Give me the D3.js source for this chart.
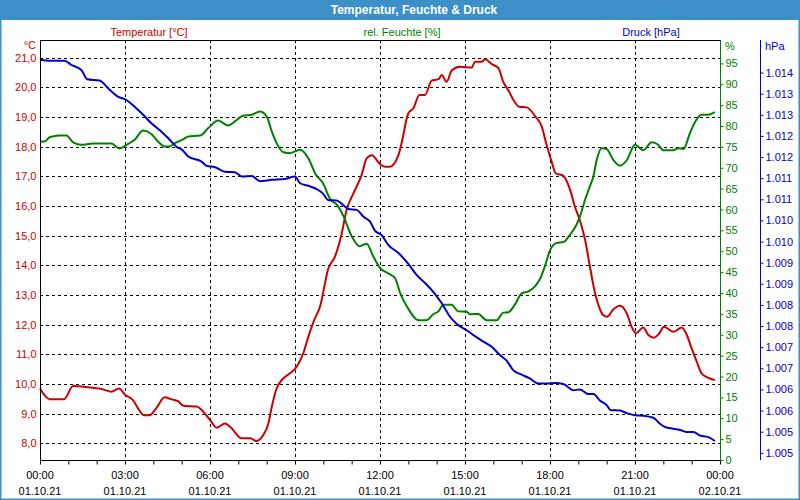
<!DOCTYPE html>
<html><head><meta charset="utf-8">
<script src="https://cdn.jsdelivr.net/npm/d3@7/dist/d3.min.js"></script>
<style>
html,body{margin:0;padding:0;background:#fff;}
svg{display:block;font-family:"Liberation Sans",Arial,sans-serif;}
</style></head>
<body>
<svg id="chart" width="800" height="500"></svg>
<script>
// ---------- data ----------
const chartTitle = "Temperatur, Feuchte & Druck";
const seriesNames = ["Temperatur [°C]", "rel. Feuchte [%]", "Druck [hPa]"];
const unitLabels = ["°C", "%", "hPa"];

const tempHours = [0.00,0.34,0.85,1.17,1.69,2.22,2.52,2.79,3.01,3.28,3.46,3.67,3.87,4.10,4.40,4.63,4.87,5.06,5.53,5.76,6.00,6.24,6.53,6.71,7.12,7.41,7.65,7.88,8.06,8.18,8.35,8.53,8.82,9.06,9.29,9.47,9.68,9.88,10.18,10.41,10.65,10.82,11.06,11.35,11.53,11.71,12.00,12.18,12.35,12.65,12.76,13.00,13.18,13.39,13.59,13.82,14.06,14.18,14.35,14.53,14.82,15.24,15.35,15.59,15.71,15.94,16.18,16.35,16.53,16.71,16.91,17.18,17.47,17.71,17.88,18.06,18.20,18.47,18.71,18.88,19.06,19.24,19.41,19.59,19.71,19.88,20.02,20.24,20.47,20.71,20.88,21.04,21.29,21.47,21.67,21.86,22.02,22.35,22.65,22.82,23.00,23.18,23.35,23.59,23.82];
const tempValues = [9.85,9.49,9.49,9.93,9.89,9.82,9.74,9.85,9.63,9.46,9.18,8.95,8.95,9.18,9.55,9.49,9.42,9.27,9.24,9.07,8.79,8.53,8.67,8.56,8.17,8.17,8.08,8.28,8.67,9.23,9.85,10.13,10.36,10.58,11.03,11.59,12.16,12.60,13.90,14.29,15.08,15.86,16.42,17.04,17.60,17.71,17.41,17.32,17.32,17.71,18.11,19.12,19.29,19.74,19.74,20.22,20.27,20.41,20.18,20.56,20.69,20.66,20.86,20.86,20.94,20.78,20.64,20.18,19.90,19.57,19.34,19.32,19.03,18.67,18.05,17.49,17.10,17.01,16.54,15.97,15.50,14.85,13.95,13.06,12.66,12.32,12.27,12.52,12.64,12.38,11.93,11.71,11.90,11.65,11.56,11.71,11.93,11.76,11.90,11.67,11.20,10.75,10.36,10.21,10.13];

const humHours = [0.00,0.16,0.34,0.69,0.93,1.17,1.46,1.87,2.52,2.81,3.05,3.34,3.64,3.93,4.16,4.40,4.58,4.76,5.00,5.24,5.65,5.94,6.29,6.65,6.88,7.18,7.47,7.76,8.00,8.18,8.35,8.59,8.82,9.18,9.47,9.74,9.98,10.24,10.47,10.71,11.00,11.29,11.53,11.76,12.00,12.29,12.53,12.71,13.00,13.35,13.65,13.88,14.06,14.24,14.53,14.76,15.06,15.18,15.47,15.76,16.12,16.35,16.53,16.76,17.00,17.24,17.47,17.65,17.82,18.00,18.24,18.47,18.71,18.94,19.06,19.24,19.41,19.53,19.65,19.82,20.00,20.24,20.47,20.71,21.00,21.29,21.59,21.82,22.00,22.35,22.53,22.71,22.94,23.15,23.35,23.59,23.82];
const humValues = [76.3,76.3,77.3,77.7,77.7,76.1,75.5,75.8,75.8,74.6,75.5,76.7,78.9,78.1,76.3,75.1,75.1,75.9,76.6,77.5,77.7,79.5,81.3,80.1,81.1,82.5,82.7,83.5,82.3,78.7,75.9,73.7,73.5,74.3,72.3,68.3,66.4,62.5,61.2,58.4,53.6,51.2,51.8,48.8,46.0,44.7,43.6,40.0,36.2,33.5,33.5,34.9,35.6,37.2,37.2,35.6,35.5,34.9,35.0,33.5,33.5,35.3,35.4,37.2,39.9,40.4,41.6,43.4,46.4,50.2,52.0,52.2,54.0,56.4,58.4,62.4,65.6,67.9,71.9,74.7,74.5,71.8,70.5,71.8,75.5,74.2,76.1,75.5,74.2,74.2,74.7,74.5,78.3,81.3,82.7,82.7,83.3];

const presHours = [0.00,0.34,0.87,1.10,1.46,1.67,2.10,2.46,2.75,3.05,3.34,3.64,3.93,4.22,4.52,4.85,5.00,5.24,5.71,5.88,6.18,6.53,6.88,7.12,7.47,7.76,8.18,8.65,9.00,9.18,9.47,9.82,9.98,10.18,10.47,10.71,10.88,11.18,11.41,11.65,11.82,12.06,12.29,12.65,13.00,13.29,13.59,13.88,14.18,14.47,14.71,15.06,15.35,15.65,15.94,16.24,16.47,16.71,17.00,17.29,17.59,17.94,18.18,18.47,18.82,19.06,19.35,19.53,19.76,20.00,20.14,20.47,20.71,21.00,21.29,21.65,21.88,22.06,22.35,22.65,22.82,23.06,23.29,23.59,23.82];
const presValues = [1014.30,1014.28,1014.28,1014.18,1014.06,1013.84,1013.81,1013.59,1013.43,1013.35,1013.19,1013.00,1012.80,1012.64,1012.45,1012.23,1012.18,1012.01,1011.89,1011.79,1011.76,1011.65,1011.64,1011.54,1011.55,1011.43,1011.46,1011.48,1011.54,1011.38,1011.32,1011.22,1011.14,1010.98,1010.97,1010.86,1010.77,1010.75,1010.59,1010.47,1010.26,1010.15,1009.92,1009.73,1009.47,1009.21,1009.02,1008.81,1008.54,1008.22,1008.05,1007.90,1007.76,1007.63,1007.51,1007.31,1007.18,1006.95,1006.85,1006.76,1006.64,1006.64,1006.65,1006.63,1006.48,1006.50,1006.39,1006.39,1006.24,1006.13,1006.01,1006.00,1005.94,1005.89,1005.88,1005.83,1005.69,1005.61,1005.57,1005.53,1005.49,1005.49,1005.41,1005.37,1005.28];

const tempTicks = [8,9,10,11,12,13,14,15,16,17,18,19,20,21];
const humTicks = [0,5,10,15,20,25,30,35,40,45,50,55,60,65,70,75,80,85,90,95];
const presTicks = [1005,1005.5,1006,1006.5,1007,1007.5,1008,1008.5,1009,1009.5,1010,1010.5,1011,1011.5,1012,1012.5,1013,1013.5,1014];
const presTickLabels = ["1.005","1.005","1.006","1.006","1.007","1.007","1.008","1.008","1.009","1.009","1.010","1.010","1.011","1.011","1.012","1.012","1.013","1.013","1.014"];

// ---------- layout ----------
const W = 800, H = 500;
const L = 40, R = 720, T = 40, B = 460;
const colT = "#cc0000", colH = "#008000", colP = "#0000cc";
const barCol = "#3d8fc7";

const svg = d3.select("#chart");

// frame
svg.append("rect").attr("x",0).attr("y",0).attr("width",W).attr("height",H).attr("fill","#fff");
svg.append("rect").attr("x",0.5).attr("y",0.5).attr("width",W-1).attr("height",H-1)
  .attr("fill","none").attr("stroke",barCol).attr("stroke-width",2);
svg.append("rect").attr("x",0).attr("y",0).attr("width",W).attr("height",20).attr("fill",barCol);
svg.append("text").attr("x",414).attr("y",10).attr("dy","0.35em").attr("text-anchor","middle")
  .attr("fill","#fff").attr("font-weight","bold").attr("font-size",12).text(chartTitle);

// scales
const t0 = new Date(Date.UTC(2021,9,1,0,0));
const t1 = new Date(Date.UTC(2021,9,2,0,0));
const hourToDate = h => new Date(t0.getTime() + h*3600000);
const x = d3.scaleTime().domain([t0,t1]).range([L,R]);
const yT = d3.scaleLinear().domain([7.44,21.59]).range([B,T]);
const yH = d3.scaleLinear().domain([0,100.6]).range([B,T]);
const yP = d3.scaleLinear().domain([1004.83,1014.77]).range([B,T]);

// grid
const grid = svg.append("g").attr("stroke","#000").attr("stroke-width",1).attr("stroke-dasharray","3,3");
grid.selectAll("line.h").data(tempTicks).join("line")
  .attr("x1",L).attr("x2",R).attr("y1",d=>Math.round(yT(d))+0.5).attr("y2",d=>Math.round(yT(d))+0.5);
const gridTimes = d3.utcHour.every(3).range(t0, t1).slice(1);
grid.selectAll("line.v").data(gridTimes).join("line")
  .attr("y1",T).attr("y2",B).attr("x1",d=>Math.round(x(d))+0.5).attr("x2",d=>Math.round(x(d))+0.5);

// top border
svg.append("line").attr("x1",L).attr("x2",R).attr("y1",T+0.5).attr("y2",T+0.5).attr("stroke","#000");

// series lines
function drawLine(hours, values, yScale, color){
  const data = hours.map((h,i)=>({t:hourToDate(h), v:values[i]}));
  const line = d3.line().x(d=>x(d.t)).y(d=>yScale(d.v)).curve(d3.curveMonotoneX);
  svg.append("path").datum(data).attr("d",line).attr("fill","none")
    .attr("stroke",color).attr("stroke-width",2).attr("stroke-linejoin","round");
}
drawLine(tempHours, tempValues, yT, colT);
drawLine(humHours, humValues, yH, colH);
drawLine(presHours, presValues, yP, colP);

// left axis (temperature)
const axT = svg.append("g").attr("transform",`translate(${L+0.5},0)`)
  .call(d3.axisLeft(yT).tickValues(tempTicks).tickSize(0).tickPadding(4)
    .tickFormat(d=>d3.format(".1f")(d).replace(".",",")));
axT.select(".domain").attr("stroke","#000").attr("d",`M0,${T}V${B}`);
axT.selectAll("text").attr("fill",colT).attr("font-size",11).attr("font-family","Liberation Sans, Arial, sans-serif");

// right axis (humidity)
const axH = svg.append("g").attr("transform",`translate(${R+0.5},0)`)
  .call(d3.axisRight(yH).tickValues(humTicks).tickSize(3).tickSizeOuter(0).tickPadding(2));
axH.select(".domain").attr("stroke",colH).attr("d",`M0,${T}V${B}`);
axH.selectAll("line").attr("stroke",colH);
axH.selectAll("text").attr("fill",colH).attr("font-size",11).attr("font-family","Liberation Sans, Arial, sans-serif");

// pressure axis
const axP = svg.append("g").attr("transform",`translate(760.5,0)`)
  .call(d3.axisRight(yP).tickValues(presTicks).tickSize(3).tickSizeOuter(0).tickPadding(2)
    .tickFormat((d,i)=>presTickLabels[i]));
axP.select(".domain").attr("stroke",colP).attr("d",`M0,${T}V${B}`);
axP.selectAll("line").attr("stroke",colP);
axP.selectAll("text").attr("fill",colP).attr("font-size",11).attr("font-family","Liberation Sans, Arial, sans-serif");

// bottom axis
const axB = svg.append("g").attr("transform",`translate(0,${B+0.5})`)
  .call(d3.axisBottom(x).ticks(d3.utcHour.every(1)).tickSize(4).tickSizeOuter(0).tickFormat(""));
axB.select(".domain").attr("stroke","#000").attr("d",`M${L},0H${R}`);
axB.selectAll("line").attr("stroke","#000");

const labelTimes = d3.utcHour.every(3).range(t0, d3.utcMinute.offset(t1,1));
const fmtTime = d3.utcFormat("%H:%M"), fmtDate = d3.utcFormat("%d.%m.%y");
const xl = svg.append("g").attr("font-size",11).attr("fill","#000").attr("text-anchor","middle");
xl.selectAll("text.t").data(labelTimes).join("text")
  .attr("x",d=>x(d)).attr("y",475).attr("dy","0.35em").text(d=>fmtTime(d));
xl.selectAll("text.d").data(labelTimes).join("text")
  .attr("x",d=>x(d)).attr("y",491).attr("dy","0.35em").text(d=>fmtDate(d));

// unit labels
svg.append("text").attr("x",36).attr("y",45).attr("dy","0.35em").attr("text-anchor","end")
  .attr("fill",colT).attr("font-size",11).text(unitLabels[0]);
svg.append("text").attr("x",725).attr("y",46).attr("dy","0.35em")
  .attr("fill",colH).attr("font-size",11).text(unitLabels[1]);
svg.append("text").attr("x",765).attr("y",46).attr("dy","0.35em")
  .attr("fill",colP).attr("font-size",11).text(unitLabels[2]);

// legend titles
const legX = [149, 402, 651], legC = [colT, colH, colP];
svg.selectAll("text.leg").data(seriesNames).join("text").attr("class","leg")
  .attr("x",(d,i)=>legX[i]).attr("y",32).attr("dy","0.35em").attr("text-anchor","middle")
  .attr("fill",(d,i)=>legC[i]).attr("font-size",11).text(d=>d);
</script>
</body></html>
